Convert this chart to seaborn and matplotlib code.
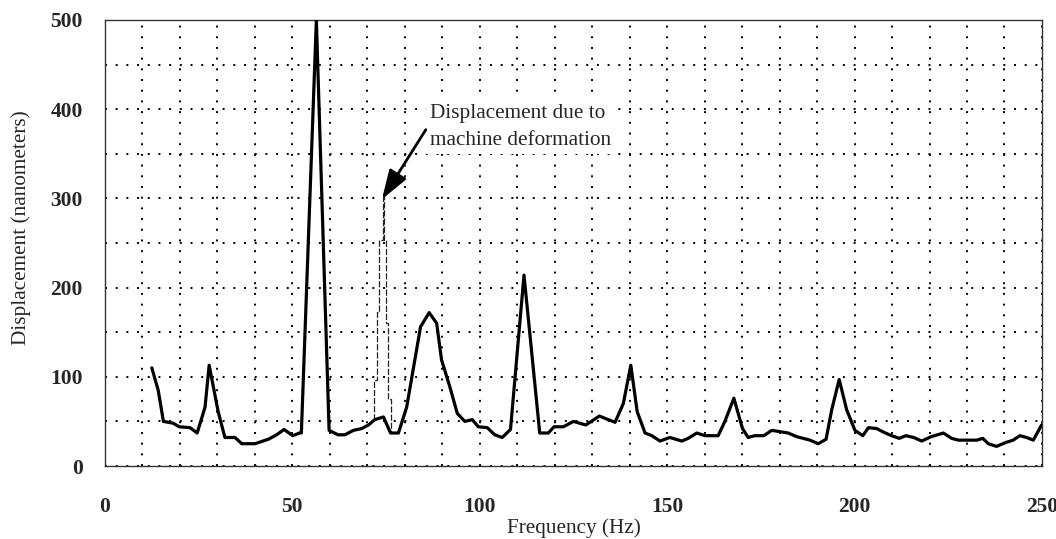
import matplotlib
matplotlib.use('Agg')
import matplotlib.pyplot as plt
from matplotlib.ticker import MultipleLocator
import seaborn as sns
import pandas as pd

# spectrum (Hz, nm)
freq = [12.5, 14.2, 15.6, 18.2, 19.8, 22.7, 24.6, 26.7, 27.8, 30.2,
        32.0, 34.7, 36.5, 40.0, 43.6, 45.8, 47.8, 50.1, 51.9, 52.4,
        56.4, 59.8, 62.2, 64.0, 66.3, 68.5, 70.3, 72.0, 74.3, 76.2,
        78.3, 80.5, 84.2, 86.5, 88.5, 89.8, 92.0, 94.0, 96.0, 98.0,
        99.6, 102.0, 104.0, 106.0, 108.2, 111.8, 116.0, 118.3, 119.8, 122.3,
        125.0, 128.3, 131.9, 136.1, 138.3, 140.3, 142.0, 144.1, 145.9, 148.1,
        150.7, 153.9, 155.6, 157.9, 160.1, 163.6, 165.4, 167.8, 170.1, 171.6,
        173.4, 175.8, 177.9, 182.3, 184.5, 188.1, 190.3, 192.4, 193.9, 195.9,
        197.9, 200.1, 202.2, 203.7, 205.9, 207.7, 209.9, 211.9, 213.7, 215.8,
        217.9, 220.5, 223.7, 225.9, 227.7, 232.6, 234.2, 235.7, 237.9, 240.1,
        242.3, 244.1, 245.9, 247.7, 249.9]
displacement = [110, 85, 50, 48, 44, 43, 37, 66, 113, 61,
                32, 32, 25, 25, 30, 35, 41, 34, 37, 37,
                500, 40, 35, 35, 40, 42, 46, 52, 55, 37,
                37, 66, 156, 172, 160, 119, 89, 59, 50, 52,
                44, 43, 35, 32, 41, 214, 37, 37, 44, 44,
                50, 46, 56, 49, 70, 113, 61, 37, 34, 28,
                32, 28, 31, 37, 34, 34, 50, 76, 42, 32,
                34, 34, 40, 37, 33, 29, 25, 30, 63, 97,
                63, 40, 34, 43, 42, 38, 34, 31, 34, 32,
                28, 33, 37, 31, 29, 29, 31, 25, 22, 26,
                29, 34, 32, 29, 46]

# stepped trace of the machine deformation component
deform_freq = [71.8, 71.9, 72.5, 73.2, 74.1, 74.5, 75.0, 75.4, 76.2]
deform_disp = [52, 96, 173, 253, 300, 253, 160, 75, 37]

annot_text = "Displacement due to\nmachine deformation"

df = pd.DataFrame({'freq': freq, 'disp': displacement})
dfd = pd.DataFrame({'freq': deform_freq, 'disp': deform_disp})

sns.set_style('white')
plt.rcParams['font.family'] = ['Liberation Serif', 'DejaVu Serif']

fig = plt.figure(figsize=(10.56, 5.39), dpi=100)
ax = fig.add_axes([0.0994, 0.1354, 0.8873, 0.8275])

sns.lineplot(data=df, x='freq', y='disp', ax=ax, color='black',
             linewidth=2.3, estimator=None, sort=False, zorder=3)
sns.lineplot(data=dfd, x='freq', y='disp', ax=ax, color='#222222',
             linewidth=0.9, estimator=None, sort=False, zorder=2,
             drawstyle='steps-post', linestyle=(0, (5, 1.5)))

ax.set_xlim(0, 250)
ax.set_ylim(0, 500)
ax.xaxis.set_major_locator(MultipleLocator(50))
ax.xaxis.set_minor_locator(MultipleLocator(10))
ax.yaxis.set_major_locator(MultipleLocator(100))
ax.yaxis.set_minor_locator(MultipleLocator(50))

# dotted grid
grid_kw = dict(color='black', linewidth=1.4, linestyle=(0, (1, 4.5)))
ax.grid(True, which='both', axis='both', **grid_kw)
ax.set_axisbelow(True)

ax.tick_params(axis='x', which='major', direction='out', length=9, width=1,
               pad=13, labelsize=15.5)
ax.tick_params(axis='x', which='minor', direction='inout', length=5, width=1)
ax.tick_params(axis='y', which='major', direction='out', length=8, width=1,
               pad=8, labelsize=15.5)
ax.tick_params(axis='y', which='minor', direction='out', length=4, width=1)
for lab in ax.get_xticklabels() + ax.get_yticklabels():
    lab.set_fontweight('bold')

for sp in ax.spines.values():
    sp.set_visible(True)
    sp.set_color('#333333')
    sp.set_linewidth(1.0)

ax.set_xlabel('Frequency (Hz)', fontsize=15.3, labelpad=1)
ax.set_ylabel('Displacement (nanometers)', fontsize=15.3)
ax.yaxis.set_label_coords(-0.079, 0.535)

ax.text(86.7, 380, annot_text, fontsize=15.3, ha='left', va='center',
        linespacing=1.55, zorder=4,
        bbox=dict(boxstyle='square,pad=0.2', fc='white', ec='none'))
ax.annotate('', xy=(73.9, 299), xytext=(85.6, 377),
            arrowprops=dict(arrowstyle='-|>,head_length=0.9,head_width=0.3',
                            color='black', lw=2.0, mutation_scale=20,
                            shrinkA=0, shrinkB=0),
            zorder=5)

fig.savefig('out.png', dpi=100)
